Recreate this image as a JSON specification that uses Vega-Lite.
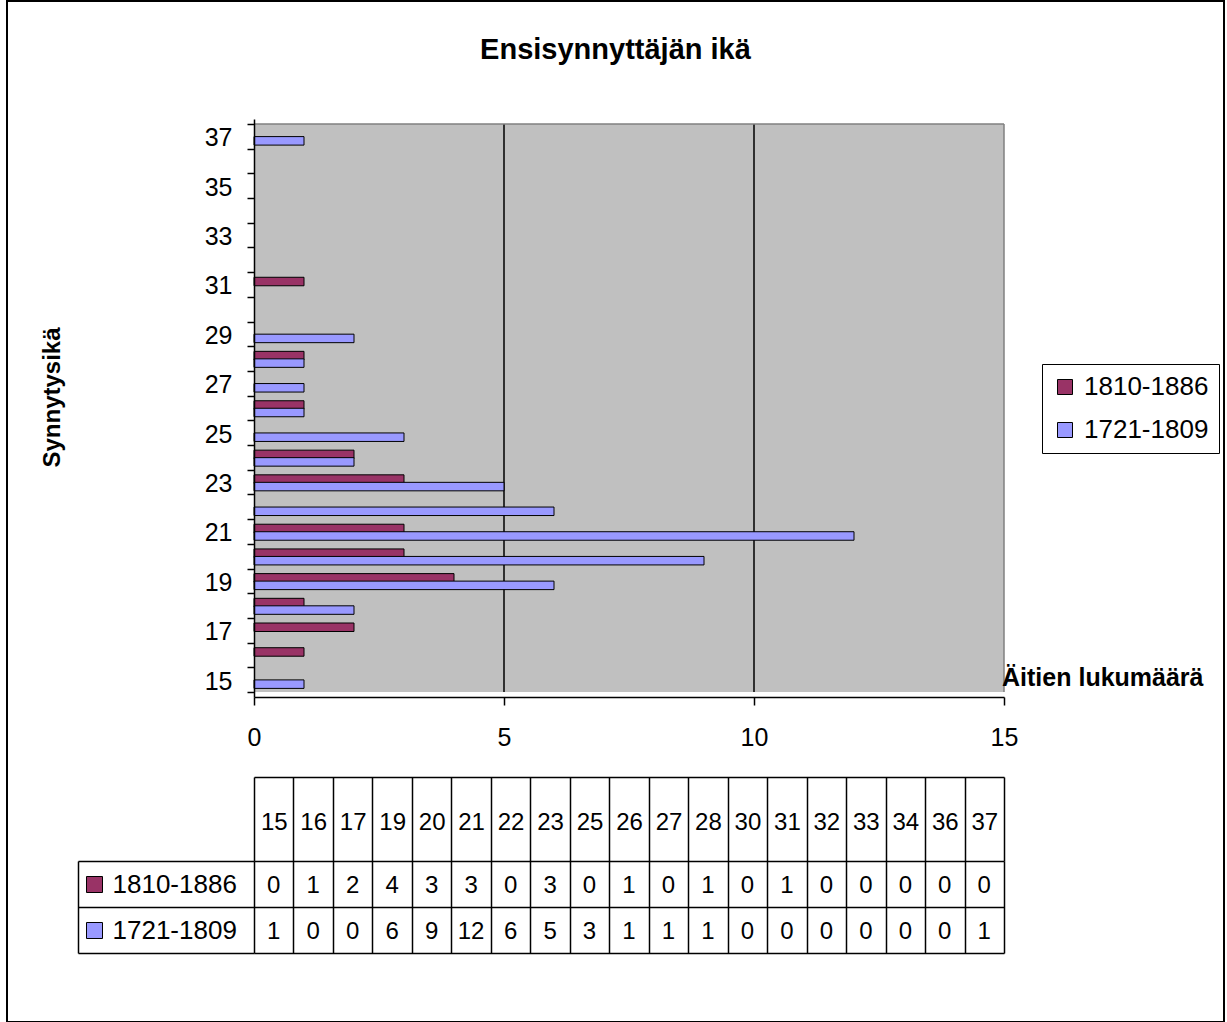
{
  "$schema": "https://vega.github.io/schema/vega-lite/v6.json",
  "width": 1217,
  "height": 1021,
  "autosize": {"type": "none"},
  "padding": {"left": 7, "top": 1, "right": 3, "bottom": 0},
  "background": "white",
  "config": {
    "font": "Liberation Sans",
    "view": {"stroke": "black", "strokeWidth": 2, "fill": "white"},
    "axis": {"labelColor": "black", "titleColor": "black", "domainColor": "black", "tickColor": "black", "labelFont": "Liberation Sans", "titleFont": "Liberation Sans"},
    "legend": {"labelColor": "black", "labelFont": "Liberation Sans"},
    "title": {"color": "black", "font": "Liberation Sans"}
  },
  "title": {"text": "Ensisynnyttäjän ikä", "fontSize": 29, "fontWeight": "bold", "anchor": "middle", "offset": -60, "dy": 40, "baseline": "alphabetic"},
  "datasets": {
    "bars": [
      {"age": 15, "series": "1721-1809", "count": 1},
      {"age": 16, "series": "1810-1886", "count": 1},
      {"age": 17, "series": "1810-1886", "count": 2},
      {"age": 18, "series": "1810-1886", "count": 1},
      {"age": 18, "series": "1721-1809", "count": 2},
      {"age": 19, "series": "1810-1886", "count": 4},
      {"age": 19, "series": "1721-1809", "count": 6},
      {"age": 20, "series": "1810-1886", "count": 3},
      {"age": 20, "series": "1721-1809", "count": 9},
      {"age": 21, "series": "1810-1886", "count": 3},
      {"age": 21, "series": "1721-1809", "count": 12},
      {"age": 22, "series": "1721-1809", "count": 6},
      {"age": 23, "series": "1810-1886", "count": 3},
      {"age": 23, "series": "1721-1809", "count": 5},
      {"age": 24, "series": "1810-1886", "count": 2},
      {"age": 24, "series": "1721-1809", "count": 2},
      {"age": 25, "series": "1721-1809", "count": 3},
      {"age": 26, "series": "1810-1886", "count": 1},
      {"age": 26, "series": "1721-1809", "count": 1},
      {"age": 27, "series": "1721-1809", "count": 1},
      {"age": 28, "series": "1810-1886", "count": 1},
      {"age": 28, "series": "1721-1809", "count": 1},
      {"age": 29, "series": "1721-1809", "count": 2},
      {"age": 31, "series": "1810-1886", "count": 1},
      {"age": 37, "series": "1721-1809", "count": 1}
    ],
    "table": [
      {"age": "15", "series": "1810-1886", "count": 0},
      {"age": "16", "series": "1810-1886", "count": 1},
      {"age": "17", "series": "1810-1886", "count": 2},
      {"age": "19", "series": "1810-1886", "count": 4},
      {"age": "20", "series": "1810-1886", "count": 3},
      {"age": "21", "series": "1810-1886", "count": 3},
      {"age": "22", "series": "1810-1886", "count": 0},
      {"age": "23", "series": "1810-1886", "count": 3},
      {"age": "25", "series": "1810-1886", "count": 0},
      {"age": "26", "series": "1810-1886", "count": 1},
      {"age": "27", "series": "1810-1886", "count": 0},
      {"age": "28", "series": "1810-1886", "count": 1},
      {"age": "30", "series": "1810-1886", "count": 0},
      {"age": "31", "series": "1810-1886", "count": 1},
      {"age": "32", "series": "1810-1886", "count": 0},
      {"age": "33", "series": "1810-1886", "count": 0},
      {"age": "34", "series": "1810-1886", "count": 0},
      {"age": "36", "series": "1810-1886", "count": 0},
      {"age": "37", "series": "1810-1886", "count": 0},
      {"age": "15", "series": "1721-1809", "count": 1},
      {"age": "16", "series": "1721-1809", "count": 0},
      {"age": "17", "series": "1721-1809", "count": 0},
      {"age": "19", "series": "1721-1809", "count": 6},
      {"age": "20", "series": "1721-1809", "count": 9},
      {"age": "21", "series": "1721-1809", "count": 12},
      {"age": "22", "series": "1721-1809", "count": 6},
      {"age": "23", "series": "1721-1809", "count": 5},
      {"age": "25", "series": "1721-1809", "count": 3},
      {"age": "26", "series": "1721-1809", "count": 1},
      {"age": "27", "series": "1721-1809", "count": 1},
      {"age": "28", "series": "1721-1809", "count": 1},
      {"age": "30", "series": "1721-1809", "count": 0},
      {"age": "31", "series": "1721-1809", "count": 0},
      {"age": "32", "series": "1721-1809", "count": 0},
      {"age": "33", "series": "1721-1809", "count": 0},
      {"age": "34", "series": "1721-1809", "count": 0},
      {"age": "36", "series": "1721-1809", "count": 0},
      {"age": "37", "series": "1721-1809", "count": 1}
    ]
  },
  "layer": [
    {
      "layer": [
        {
          "data": {"values": [{}]},
          "mark": {"type": "rect", "fill": "#C0C0C0", "strokeWidth": 0},
          "encoding": {
            "x": {"datum": 0, "type": "quantitative"},
            "x2": {"datum": 15},
            "y": {"datum": 14.5, "type": "quantitative"},
            "y2": {"datum": 37.5}
          }
        },
        {
          "data": {"values": [{}]},
          "mark": {"type": "rule", "color": "black", "strokeWidth": 1.5},
          "encoding": {
            "x": {"datum": 5, "type": "quantitative"},
            "y": {"datum": 14.5, "type": "quantitative"},
            "y2": {"datum": 37.5}
          }
        },
        {
          "data": {"values": [{}]},
          "mark": {"type": "rule", "color": "black", "strokeWidth": 1.5},
          "encoding": {
            "x": {"datum": 10, "type": "quantitative"},
            "y": {"datum": 14.5, "type": "quantitative"},
            "y2": {"datum": 37.5}
          }
        },
        {
          "data": {"values": [{}]},
          "mark": {"type": "rule", "color": "#808080", "strokeWidth": 1.5},
          "encoding": {
            "x": {"datum": 15, "type": "quantitative"},
            "y": {"datum": 14.5, "type": "quantitative"},
            "y2": {"datum": 37.5}
          }
        },
        {
          "data": {"values": [{}]},
          "mark": {"type": "rule", "color": "#808080", "strokeWidth": 1.5},
          "encoding": {
            "x": {"datum": 0, "type": "quantitative"},
            "x2": {"datum": 15},
            "y": {"datum": 37.5, "type": "quantitative"}
          }
        },
        {
          "data": {"name": "bars"},
          "transform": [{"filter": "datum.series === '1810-1886'"}],
          "mark": {"type": "bar", "orient": "horizontal", "height": 8.5, "yOffset": -3, "stroke": "black", "strokeWidth": 1},
          "encoding": {
            "x": {
              "field": "count", "type": "quantitative", "stack": null,
              "scale": {"domain": [0, 15], "range": [247, 997], "nice": false, "zero": true},
              "axis": {
                "orient": "bottom", "offset": -325, "values": [0, 5, 10, 15], "format": "d", "grid": false,
                "tickSize": 8, "tickWidth": 1.5, "domainWidth": 1.5, "labelFontSize": 25, "labelPadding": 20,
                "labelFlush": false, "labelOverlap": false, "zindex": 1,
                "title": "Äitien lukumäärä", "titleFontSize": 25, "titleFontWeight": "bold",
                "titleX": 1196, "titleY": -12, "titleAlign": "right", "titleBaseline": "alphabetic"
              }
            },
            "y": {
              "field": "age", "type": "quantitative",
              "scale": {"domain": [14.5, 37.5], "range": [696, 118], "nice": false, "zero": false},
              "axis": {
                "orient": "left", "offset": -247, "grid": false,
                "values": [14.5, 15.5, 16.5, 17.5, 18.5, 19.5, 20.5, 21.5, 22.5, 23.5, 24.5, 25.5, 26.5, 27.5, 28.5, 29.5, 30.5, 31.5, 32.5, 33.5, 34.5, 35.5, 36.5, 37.5],
                "labelExpr": "(datum.value + 0.5) % 2 === 1 ? format(datum.value + 0.5, 'd') : ''",
                "labelOffset": -11,
                "tickSize": 7, "tickWidth": 1.5, "domainWidth": 1.5, "labelFontSize": 25, "labelPadding": 15,
                "labelFlush": false, "labelOverlap": false, "zindex": 1,
                "title": "Synnytysikä", "titleFontSize": 24, "titleFontWeight": "bold",
                "titleX": -202, "titleY": 396, "titleAngle": -90, "titleAlign": "center", "titleBaseline": "middle"
              }
            },
            "color": {
              "field": "series", "type": "nominal",
              "scale": {"domain": ["1810-1886", "1721-1809"], "range": ["#993366", "#9999FF"]},
              "legend": {
                "orient": "none", "legendX": 1035, "legendY": 363, "title": null,
                "symbolType": "square", "symbolSize": 225, "symbolStrokeColor": "black", "symbolStrokeWidth": 1,
                "labelFontSize": 26, "labelOffset": 6, "rowPadding": 17, "padding": 10,
                "strokeColor": "black", "fillColor": "white"
              }
            }
          }
        },
        {
          "data": {"name": "bars"},
          "transform": [{"filter": "datum.series === '1721-1809'"}],
          "mark": {"type": "bar", "orient": "horizontal", "height": 8.5, "yOffset": 4.5, "stroke": "black", "strokeWidth": 1},
          "encoding": {
            "x": {"field": "count", "type": "quantitative", "stack": null},
            "y": {"field": "age", "type": "quantitative"},
            "color": {"field": "series", "type": "nominal"}
          }
        }
      ]
    },
    {
      "layer": [
        {
          "data": {"name": "table"},
          "mark": {"type": "text", "fontSize": 24, "align": "center", "baseline": "middle", "color": "black", "dy": 2},
          "encoding": {
            "x": {
              "field": "age", "type": "nominal", "sort": null,
              "scale": {"type": "band", "domain": ["15", "16", "17", "19", "20", "21", "22", "23", "25", "26", "27", "28", "30", "31", "32", "33", "34", "36", "37"], "range": [247, 997], "paddingInner": 0, "paddingOuter": 0},
              "axis": {
                "orient": "top", "offset": -776, "title": null, "tickBand": "extent", "tickSize": -84, "tickWidth": 1.5,
                "domainWidth": 1.5, "labelFontSize": 24, "labelAngle": 0, "labelBaseline": "middle", "labelPadding": 39,
                "labelOverlap": false, "grid": true, "gridColor": "black", "gridWidth": 1.5, "gridOpacity": 1
              }
            },
            "y": {
              "field": "series", "type": "nominal",
              "scale": {"type": "band", "domain": ["1810-1886", "1721-1809"], "range": [860, 952], "paddingInner": 0, "paddingOuter": 0},
              "axis": {
                "orient": "left", "offset": -71, "title": null, "tickBand": "extent", "tickSize": -176, "tickWidth": 1.5,
                "domainWidth": 1.5, "labelAlign": "left", "labelBaseline": "middle", "labelFontSize": 26, "labelPadding": 142,
                "labelOverlap": false, "grid": true, "gridColor": "black", "gridWidth": 1.5, "gridOpacity": 1
              }
            },
            "text": {"field": "count", "type": "quantitative"}
          }
        },
        {
          "data": {"name": "table"},
          "mark": {"type": "square", "opacity": 0, "size": 0},
          "encoding": {
            "x": {"field": "age", "type": "nominal", "sort": null},
            "y": {"field": "series", "type": "nominal"},
            "color": {
              "field": "series", "type": "nominal",
              "scale": {"domain": ["1810-1886", "1721-1809"], "range": ["#993366", "#9999FF"]},
              "legend": {
                "orient": "none", "legendX": 79, "legendY": 875, "title": null,
                "symbolType": "square", "symbolSize": 256, "symbolStrokeColor": "black", "symbolStrokeWidth": 1,
                "symbolOpacity": 1, "labelExpr": "''", "labelFontSize": 1, "rowPadding": 25, "padding": 0
              }
            }
          }
        }
      ]
    }
  ],
  "resolve": {"scale": {"x": "independent", "y": "independent", "color": "independent"}}
}
